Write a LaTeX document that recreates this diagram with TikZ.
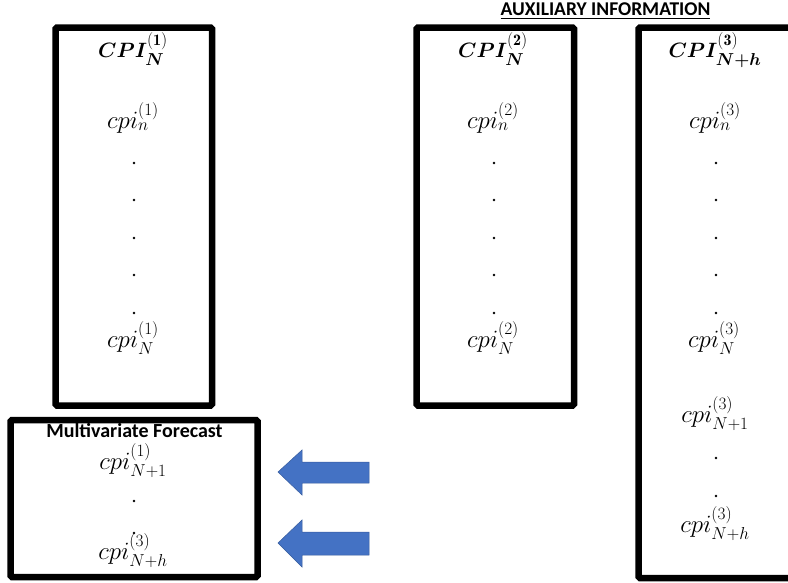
\documentclass[tikz,border=0pt]{standalone}
\usepackage{amsmath,bm}
\usepackage{fontspec}
\newfontfamily\calib{Carlito}
\DeclareMathSizes{24}{24}{18.5}{14}
\DeclareMathSizes{20.5}{20.5}{16}{12}
\begin{document}
\begin{tikzpicture}[x=1pt,y=-1pt,
  box/.style={draw=black,line width=6.5pt,rounded corners=1.5pt},
  bigcpi/.style={anchor=base,inner sep=0pt,font=\fontsize{20.5}{24}\selectfont},
  cpi/.style={anchor=base,inner sep=0pt,font=\fontsize{24}{28}\selectfont},
  dotn/.style={circle,fill=black,inner sep=0pt,minimum size=2.8pt},
  lbl/.style={anchor=base,inner sep=0pt,text depth=0pt},
  barrow/.style={fill=arrowblue,draw=arrowblue!80!black,line width=0.5pt}]
\definecolor{arrowblue}{HTML}{4472C4}
\useasboundingbox (0,0) rectangle (788,582);
\clip (0,0) rectangle (788,582);
% boxes
\draw[box] (55.5,27.5) rectangle (212,405.5);
\draw[box] (416.5,27.5) rectangle (574,405.5);
\draw[box] (638.5,27.5) rectangle (820,578);
\draw[box] (10.5,420) rectangle (257.5,577);
% header
\node[lbl,font=\calib\bfseries\fontsize{19.5}{22}\selectfont] (aux) at (605.5,15) {\underline{AUXILIARY INFORMATION}};
% box 1
\node[bigcpi] (h1) at (133,57) {$\bm{CPI}_{\bm{N}}^{(\mathbf{1})}$};
\node[cpi] (a1) at (133,128) {$cpi_n^{(1)}$};
\foreach \i/\y in {1/163,2/200,3/238,4/275,5/313}
  \node[dotn] (d1\i) at (134,\y) {};
\node[cpi] (b1) at (133,347) {$cpi_N^{(1)}$};
% box 2
\node[bigcpi] (h2) at (493,57) {$\bm{CPI}_{\bm{N}}^{(\mathbf{2})}$};
\node[cpi] (a2) at (493,128) {$cpi_n^{(2)}$};
\foreach \i/\y in {1/163,2/200,3/238,4/275,5/313}
  \node[dotn] (d2\i) at (494,\y) {};
\node[cpi] (b2) at (493,347) {$cpi_N^{(2)}$};
% box 3
\node[bigcpi] (h3) at (715,57) {$\bm{CPI}_{\bm{N+h}}^{(\mathbf{3})}$};
\node[cpi] (a3) at (715,128) {$cpi_n^{(3)}$};
\foreach \i/\y in {1/163,2/200,3/238,4/275,5/313}
  \node[dotn] (d3\i) at (716,\y) {};
\node[cpi] (b3) at (714,347) {$cpi_N^{(3)}$};
\node[cpi] (c3) at (715,422) {$cpi_{N+1}^{(3)}$};
\node[dotn] (e31) at (716,458) {};
\node[dotn] (e32) at (716,496) {};
\node[cpi] (f3) at (715,532) {$cpi_{N+h}^{(3)}$};
% box 4
\node[lbl,font=\calib\bfseries\fontsize{20}{23}\selectfont] (mf) at (134.5,437.5) {Multivariate Forecast};
\node[cpi] (g1) at (133,469) {$cpi_{N+1}^{(1)}$};
\node[dotn] (g2) at (134,501) {};
\node[dotn] (g3) at (134,533) {};
\node[cpi] (g4) at (133,559) {$cpi_{N+h}^{(3)}$};
% block arrows
\path[barrow] (278,472) -- (302,450) -- (302,462) -- (369,462) -- (369,483) -- (302,483) -- (302,495) -- cycle;
\path[barrow] (278,543) -- (302,520) -- (302,532) -- (369,532) -- (369,555) -- (302,555) -- (302,567) -- cycle;
\end{tikzpicture}
\end{document}
